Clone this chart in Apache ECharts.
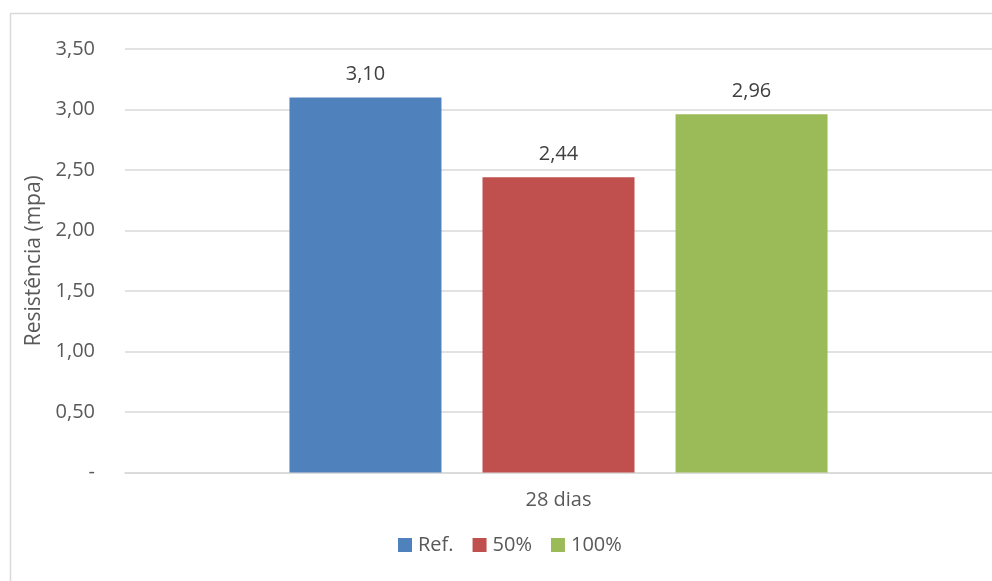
<!DOCTYPE html>
<html>
<head>
<meta charset="utf-8">
<script src="https://cdn.jsdelivr.net/npm/echarts@6/dist/echarts.min.js"></script>
<style>
  html, body { margin: 0; padding: 0; background: #ffffff; }
  #chart { width: 992px; height: 581px; }
</style>
</head>
<body>
<div id="chart"></div>
<script>
// Flexural strength at 28 days for the reference mix and two replacement levels
const categories = ['28 dias'];
const seriesNames = ['Ref.', '50%', '100%'];
const refValues = [3.10];
const half = [2.44];
const full = [2.96];
const yTickLabels = ['-', '0,50', '1,00', '1,50', '2,00', '2,50', '3,00', '3,50'];

const colors = ['#4F81BD', '#C0504D', '#9BBB59'];
const textColor = '#595959';
const labelColor = '#404040';
const font = '"Open Sans", "Noto Sans", sans-serif';

const fmt = v => v.toFixed(2).replace('.', ',');

function barSeries(name, data, color) {
  return {
    name: name,
    type: 'bar',
    data: data,
    barWidth: 152,
    barGap: '27%',
    itemStyle: { color: color },
    label: {
      show: true,
      position: 'top',
      distance: 13,
      color: labelColor,
      fontFamily: font,
      fontSize: 20,
      formatter: p => fmt(p.value)
    }
  };
}

const chart = echarts.init(document.getElementById('chart'), null, { renderer: 'canvas' });
chart.setOption({
  backgroundColor: '#ffffff',
  animation: false,
  textStyle: { fontFamily: font },
  graphic: [{
    type: 'rect',
    left: 8, top: 11,
    shape: { width: 1000, height: 600 },
    style: { fill: 'none', stroke: '#D9D9D9', lineWidth: 1.5 },
    silent: true
  }],
  grid: { left: 125, right: -4, top: 49, bottom: 108.5, containLabel: false },
  legend: {
    data: seriesNames,
    bottom: 26,
    left: 398,
    padding: 0,
    itemWidth: 14,
    itemHeight: 14,
    itemGap: 19,
    icon: 'rect',
    textStyle: { color: textColor, fontFamily: font, fontSize: 20, padding: [0, 0, 0, 1] }
  },
  xAxis: {
    type: 'category',
    data: categories,
    axisLine: { lineStyle: { color: '#D9D9D9', width: 1.5 } },
    axisTick: { show: false },
    axisLabel: { color: textColor, fontFamily: font, fontSize: 20, margin: 18 }
  },
  yAxis: {
    type: 'value',
    min: 0,
    max: 3.5,
    interval: 0.5,
    name: 'Resistência (mpa)',
    nameLocation: 'middle',
    nameGap: 80,
    nameTextStyle: { color: textColor, fontFamily: font, fontSize: 21 },
    axisLine: { show: false },
    axisTick: { show: false },
    splitLine: { lineStyle: { color: '#D9D9D9', width: 1.5 } },
    axisLabel: {
      color: textColor,
      fontFamily: font,
      fontSize: 20,
      margin: 30,
      formatter: v => yTickLabels[Math.round(v / 0.5)]
    }
  },
  series: [
    barSeries(seriesNames[0], refValues, colors[0]),
    barSeries(seriesNames[1], half, colors[1]),
    barSeries(seriesNames[2], full, colors[2])
  ]
});
</script>
</body>
</html>
